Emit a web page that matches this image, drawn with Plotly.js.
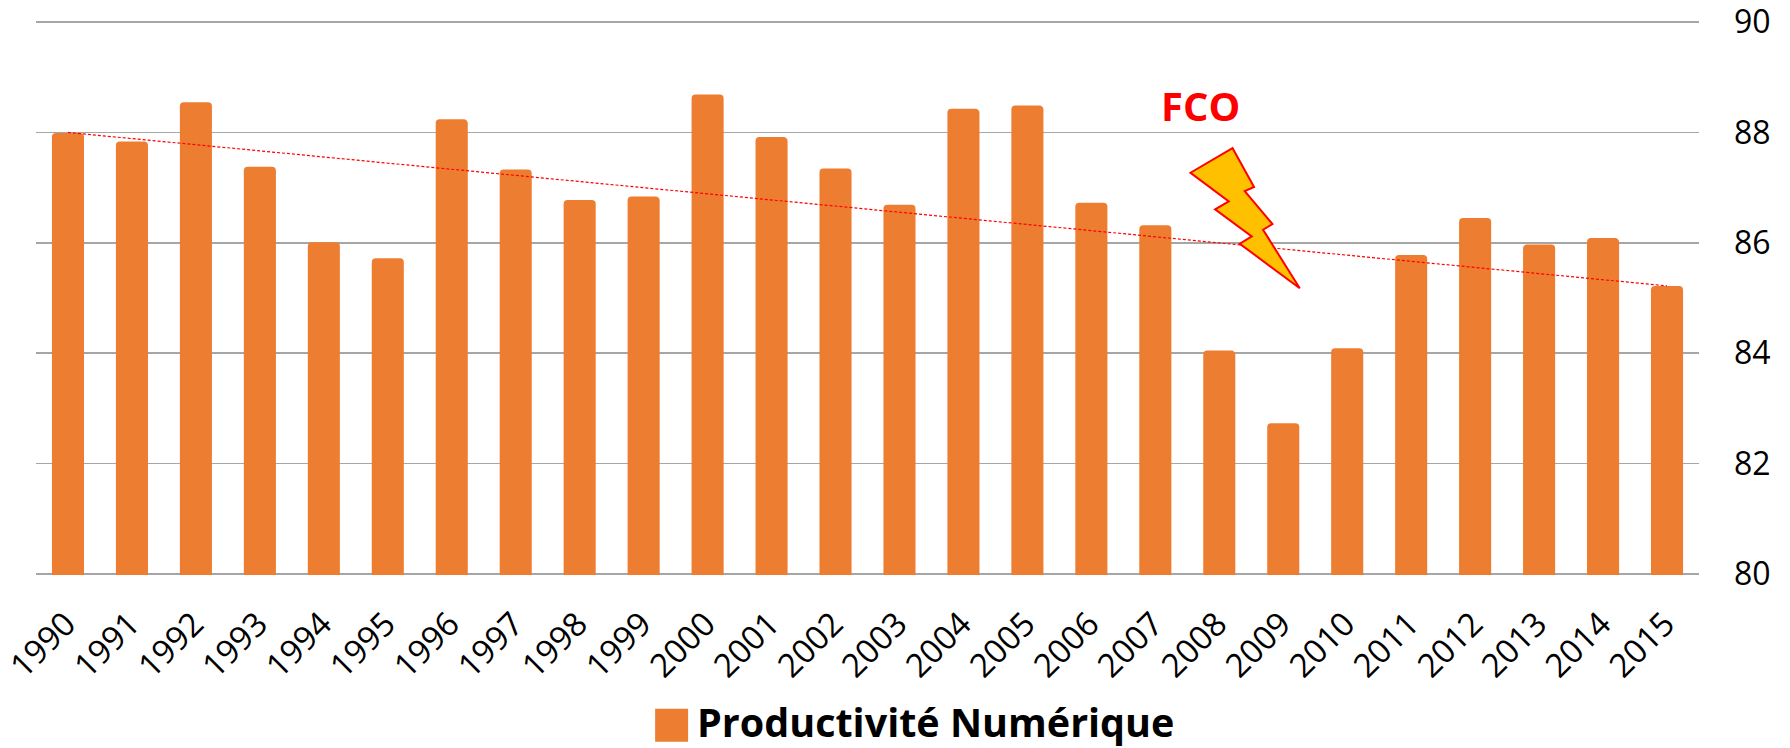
<!DOCTYPE html>
<html>
<head>
<meta charset="utf-8">
<script src="https://cdn.plot.ly/plotly-3.0.1.min.js"></script>
<style>html,body{margin:0;padding:0;background:#fff;overflow:hidden}</style>
</head>
<body>
<div id="chart" style="width:1790px;height:748px"></div>
<script>
const years = [1990,1991,1992,1993,1994,1995,1996,1997,1998,1999,2000,2001,2002,2003,2004,2005,2006,2007,2008,2009,2010,2011,2012,2013,2014,2015];
const productivite = [87.97,87.82,88.53,87.36,85.99,85.70,88.22,87.31,86.76,86.82,88.67,87.90,87.33,86.67,88.41,88.47,86.71,86.30,84.03,82.71,84.07,85.76,86.43,85.95,86.07,85.20];
const trendYears = [1990,2015];
const trendValues = [88.0,85.22];
const yTicks = [80,82,84,86,88,90];
const seriesName = 'Productivité Numérique';

const W = 1790, H = 748;
const m = {l:35.5, r:90.5, t:20.9, b:172.9, pad:0};
const FONT = '"Open Sans", "Noto Sans", sans-serif';
// page pixels to the plot-area fractions used by xref/yref 'paper'
const px = x => (x - m.l) / (W - m.l - m.r);
const py = y => (H - m.b - y) / (H - m.t - m.b);
// Decoration: lightning outline, in page pixels
const bolt = [[1232.7,148],[1254.3,187],[1245,191],[1272.7,224],[1263.3,229.7],[1300,288.3],[1240,243.7],[1252,236.3],[1215.3,209.3],[1229,201.3],[1190.7,172.7]];
const boltPath = 'M ' + bolt.map(p => px(p[0]).toFixed(5) + ' ' + py(p[1]).toFixed(5)).join(' L ') + ' Z';

Plotly.newPlot('chart', [
  {type:'bar', x:years, y:productivite, name:seriesName, width:0.47,
   marker:{color:'#ED7D31', cornerradius:3, line:{color:'#ED7D31', width:2}}, cliponaxis:false},
  {type:'scatter', mode:'lines', x:trendYears, y:trendValues, showlegend:false,
   line:{color:'#FF0000', width:1.2, dash:'3px,2px'}}
], {
  width:W, height:H, margin:m, autosize:false,
  paper_bgcolor:'#fff', plot_bgcolor:'#fff', showlegend:false,
  font:{family:FONT, color:'#000'},
  xaxis:{range:[1989.5,2015.5], tickmode:'array', tickvals:years, ticktext:years.map(String),
         tickangle:-45, tickfont:{size:33, family:FONT, color:'#000'}, ticks:'', showgrid:false, zeroline:false,
         showline:false, ticklabelstandoff:22, ticklabelshift:-2, ticklabeloverflow:'allow'},
  yaxis:{range:[79.98,90.02], side:'right', tickmode:'array', tickvals:yTicks, ticktext:yTicks.map(String),
         tickfont:{size:32, family:FONT, color:'#000'}, ticks:'', showgrid:true, gridcolor:'#A6A6A6', gridwidth:1.5,
         zeroline:false, showline:false, ticklabelstandoff:34, ticklabeloverflow:'allow'},
  shapes:[
    {type:'path', xref:'paper', yref:'paper', path:boltPath, fillcolor:'#FFC000', line:{color:'#FF0000', width:2}},
    {type:'rect', xref:'paper', yref:'paper', x0:px(655), x1:px(688), y0:py(742), y1:py(709), fillcolor:'#ED7D31', line:{width:0}, layer:'above'}
  ],
  annotations:[
    {xref:'paper', yref:'paper', x:px(1201), y:py(105), text:'<b>FCO</b>', showarrow:false, xanchor:'center', yanchor:'middle',
     font:{size:40, color:'#FF0000', family:FONT}},
    {xref:'paper', yref:'paper', x:px(695), y:py(722), text:'<b>'+seriesName+'</b>', showarrow:false, xanchor:'left', yanchor:'middle',
     font:{size:39.5, color:'#000', family:FONT}}
  ]
}, {displayModeBar:false, staticPlot:true});
</script>
</body>
</html>
